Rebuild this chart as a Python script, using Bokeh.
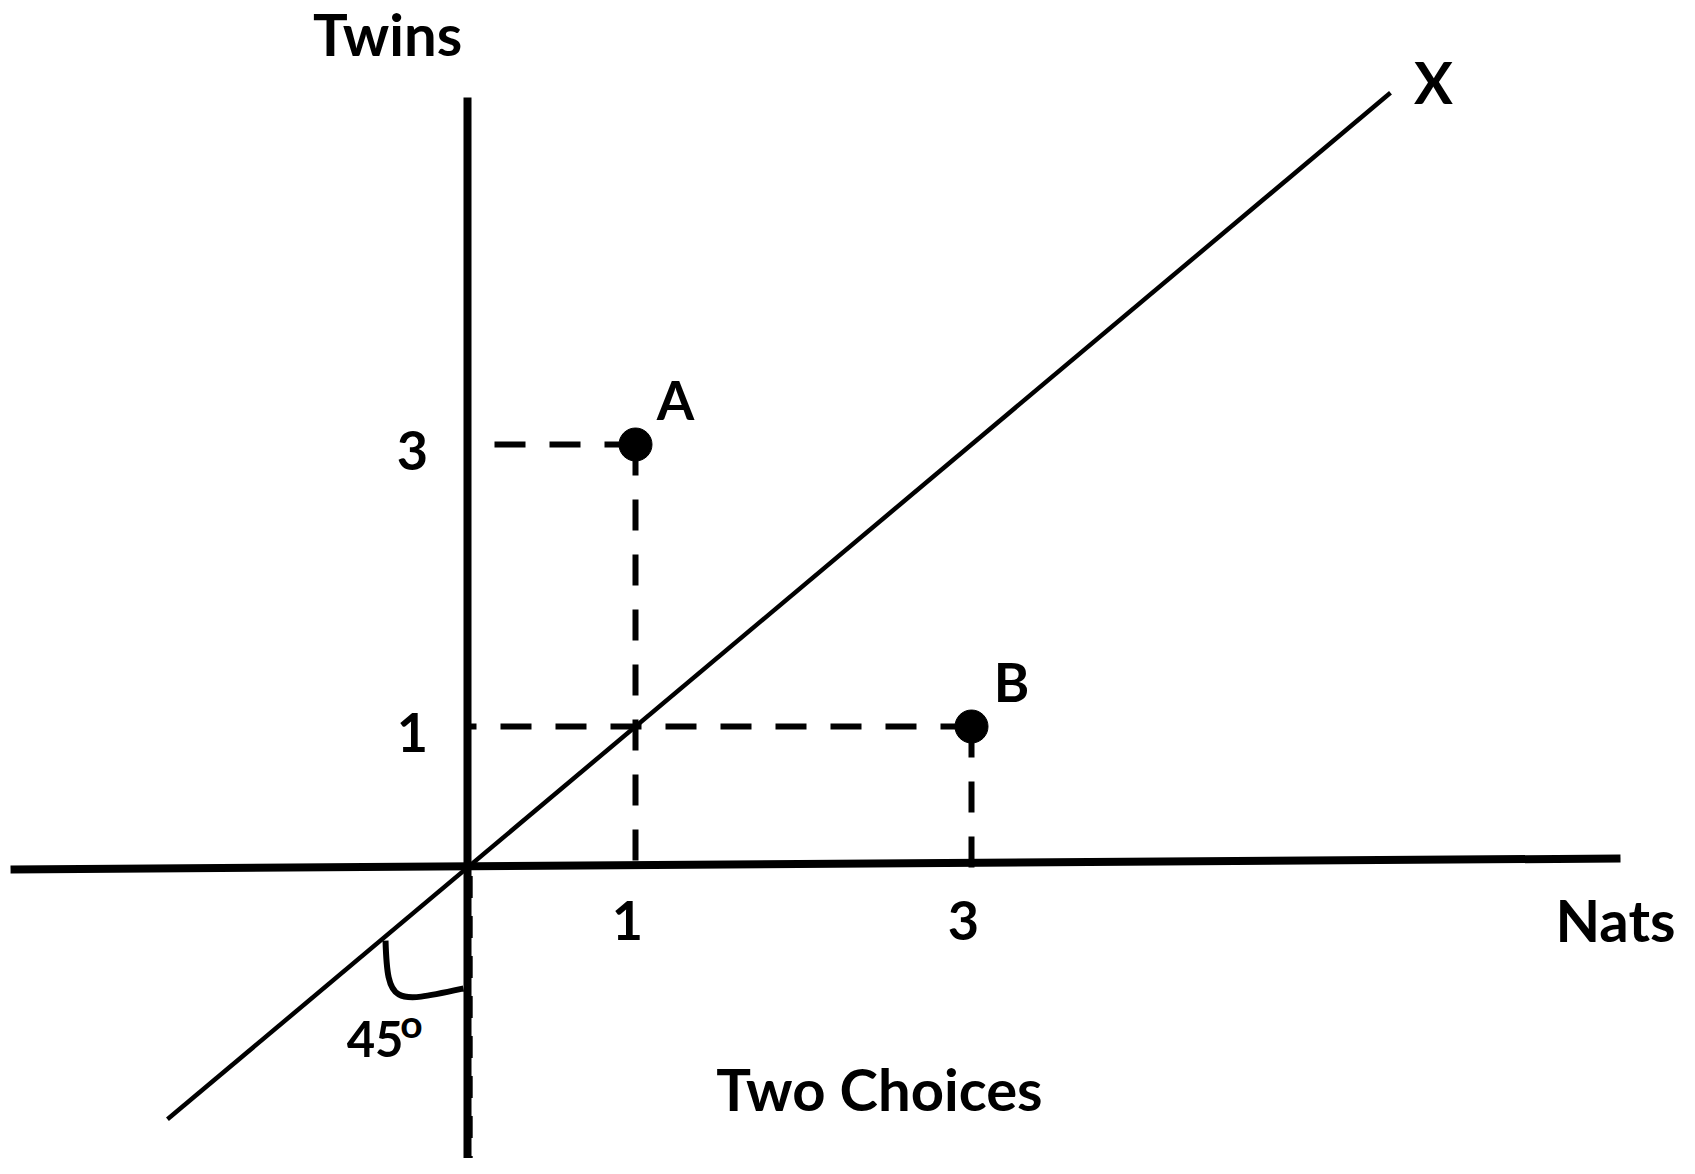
from bokeh.plotting import figure
from bokeh.models import ColumnDataSource, Range1d
from bokeh.core.properties import value
from bokeh.embed import file_html
from bokeh.resources import INLINE

# ---- data ----
point_names = ["A", "B"]
point_x = [1, 3]          # Nats
point_y = [3, 1]          # Twins
tick_values = [1, 3]
tick_labels = ["1", "3"]
x_axis_title = "Nats"
y_axis_title = "Twins"
line_label = "X"
chart_title = "Two Choices"
angle_label = "45"
angle_sup = "o"

# extent of the hand-drawn 45-degree line (y = x)
diag_x = [-1.786, 5.494]

# ---- layout ----
W, H = 1679, 1158
XU, YU = 168.0, 141.0          # pixels per unit
ox, oy = 467, 867              # origin in frame pixels
x0 = -ox / XU
y1 = oy / YU
p = figure(width=W, height=H, output_backend="svg", toolbar_location=None,
           x_range=Range1d(x0, x0 + W / XU), y_range=Range1d(y1 - H / YU, y1),
           x_axis_type=None, y_axis_type=None, min_border=0,
           outline_line_color=None, background_fill_color="white",
           border_fill_color="white")
p.grid.visible = False

FONT = value("Lato")
INK = "black"
TS = -19  # text vertical adjustment (px)

# axes drawn as in the sketch
p.line([-2.72, 6.863], [-0.014, 0.064], line_color=INK, line_width=8)   # Nats axis
p.line([0, 0], [5.461, -2.3], line_color=INK, line_width=8)             # Twins axis
# faint dashed reference below origin
p.line([0.022, 0.022], [-0.06, -2.3], line_color=INK, line_width=3, line_dash="22 18")

# 45-degree line
p.line(diag_x, diag_x, line_color=INK, line_width=4.5)

# dashed guide lines from each point to the axes
src = ColumnDataSource(dict(x=point_x, y=point_y, name=point_names))
for px, py in zip(point_x, point_y):
    p.line([px, 0], [py, py], line_color=INK, line_width=6, line_dash="31 24")
    p.line([px, px], [py, 0], line_color=INK, line_width=6, line_dash="31 24")

p.scatter("x", "y", source=src, size=33, fill_color=INK, line_color=INK)
p.text("x", "y", text="name", source=src, text_font=FONT, text_font_style="bold",
       text_font_size=value("54px"), text_align="center", text_baseline="alphabetic",
       x_offset=40, y_offset=-26 + TS, text_color=INK)

# tick labels
tsrc = ColumnDataSource(dict(v=tick_values, z=[0] * len(tick_values), t=tick_labels))
p.text("v", "z", text="t", source=tsrc, text_font=FONT, text_font_style="bold",
       text_font_size=value("54px"), text_align="center", text_baseline="alphabetic",
       x_offset=-8, y_offset=72 + TS, text_color=INK)
p.text("z", "v", text="t", source=tsrc, text_font=FONT, text_font_style="bold",
       text_font_size=value("54px"), text_align="center", text_baseline="alphabetic",
       x_offset=-55, y_offset=25 + TS, text_color=INK)

# titles
def label(x, y, s, size):
    p.text([x], [y], text=[s], text_font=FONT, text_font_style="bold",
           text_font_size=value(size), text_align="center",
           text_baseline="alphabetic", text_color=INK, y_offset=TS)

label(-0.476, 5.78, y_axis_title, "58px")
label(6.833, -0.504, x_axis_title, "58px")
label(5.75, 5.44, line_label, "58px")
label(2.452, -1.702, chart_title, "58px")

# 45 degree marker
p.bezier(x0=[-0.488], y0=[-0.518], x1=[-0.024], y1=[-0.858],
         cx0=[-0.476], cy0=[-0.979], cx1=[-0.44], cy1=[-0.965],
         line_color=INK, line_width=6)
label(-0.55, -1.348, angle_label, "49px")
label(-0.333, -1.241, angle_sup, "39px")

open("out.html", "w").write(file_html(p, INLINE))
